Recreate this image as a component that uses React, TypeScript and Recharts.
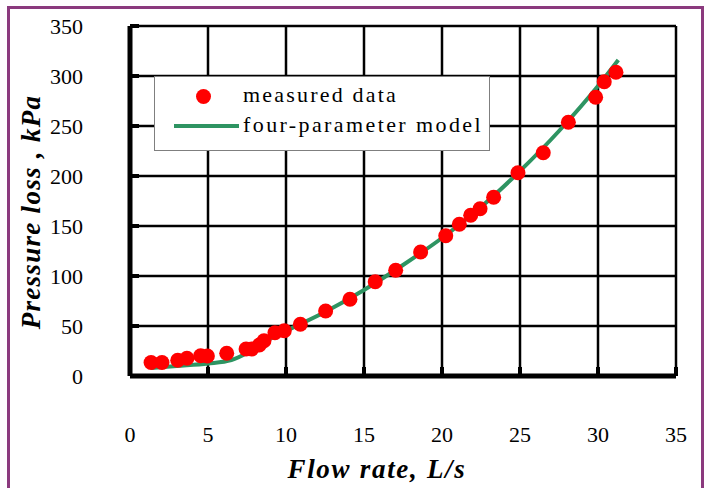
import React from "react";
import {
  ComposedChart,
  Line,
  Scatter,
  XAxis,
  YAxis,
  CartesianGrid,
  Label,
} from "recharts";

const flowMeasured = [
  1.35, 2.05, 3.06, 3.65, 4.53, 4.96, 6.2, 7.44, 7.8, 8.29, 8.59, 9.29, 9.89,
  10.92, 12.54, 14.1, 15.72, 17.03, 18.63, 20.24, 21.11, 21.84, 22.44, 23.31,
  24.87, 26.49, 28.1, 29.85, 30.4, 31.15,
];
const lossMeasured = [
  13.5, 13.5, 15.7, 17.7, 20.3, 20, 22.7, 27, 27, 31, 35.3, 43.3, 45.3, 51.7,
  65, 76.7, 94.3, 105.7, 124, 140.3, 151.7, 160.7, 167.3, 178.7, 203.3, 223.3,
  253.7, 278.7, 294.3, 303.7,
];

const flowModel = [1.35, 3, 5, 6.5, 7.5, 8.5, 10, 12.5, 15, 17.5, 20, 22.5, 25, 27.5, 30, 31.3];
const lossModel = [8, 10, 12.5, 16, 23, 33, 45, 64, 86, 111, 138, 169, 205, 245, 290, 316];

const xTicks = [0, 5, 10, 15, 20, 25, 30, 35];
const yTicks = [0, 50, 100, 150, 200, 250, 300, 350];

const seriesNames = ["measured data", "four-parameter model"];

const measured = flowMeasured.map((x, i) => ({ x, y: lossMeasured[i] }));
const model = flowModel.map((x, i) => ({ x, y: lossModel[i] }));

const RED = "#ff0000";
const GREEN = "#2e9462";
const FRAME = "#8b3a7e";
const serif = "Liberation Serif";

const Dot = (props: any) => <circle cx={props.cx} cy={props.cy} r={7.5} fill={RED} />;

function YTitle(props: any) {
  const cx = 31;
  const cy = 212;
  return (
    <text
      x={cx}
      y={cy}
      transform={`rotate(-90 ${cx} ${cy})`}
      textAnchor="middle"
      dominantBaseline="central"
      style={{ fontFamily: serif }}
      fontSize={27}
      fontWeight="bold"
      fontStyle="italic"
      letterSpacing={1.3}
      fill="#000"
    >
      Pressure loss , kPa
    </text>
  );
}

function XTitle(props: any) {
  return (
    <text
      x={377}
      y={469}
      textAnchor="middle"
      dominantBaseline="central"
      style={{ fontFamily: serif }}
      fontSize={27}
      fontWeight="bold"
      fontStyle="italic"
      letterSpacing={1.7}
      fill="#000"
    >
      Flow rate, L/s
    </text>
  );
}

export default function App() {
  const tickStyle = { fontFamily: serif, fontSize: 22, fill: "#000", style: { fontFamily: serif } };
  return (
    <div
      style={{
        position: "fixed",
        left: 0,
        top: 0,
        width: 706,
        height: 488,
        overflow: "hidden",
        background: "#fff",
        fontFamily: serif,
      }}
    >
      <div
        style={{
          position: "absolute",
          left: 7,
          top: 6,
          width: 697,
          height: 600,
          boxSizing: "border-box",
          border: `3px solid ${FRAME}`,
        }}
      />
      <div style={{ position: "absolute", left: 0, top: 0 }}>
        <ComposedChart
          width={706}
          height={488}
          margin={{ top: 26, right: 30, left: 0, bottom: 0 }}
          style={{ fontFamily: serif }}
        >
          <CartesianGrid stroke="#000" strokeWidth={2.5} />
          <XAxis
            xAxisId={0}
            type="number"
            dataKey="x"
            domain={[0, 35]}
            ticks={xTicks}
            height={112}
            axisLine={{ stroke: "#000", strokeWidth: 5 }}
            tickLine={{ stroke: "#000", strokeWidth: 4 }}
            tickSize={-9}
            tickMargin={59}
            tick={tickStyle}
            interval={0}
          >
            <Label content={XTitle} />
          </XAxis>
          <XAxis
            xAxisId="top"
            orientation="top"
            type="number"
            domain={[0, 35]}
            height={0}
            tick={false}
            tickLine={false}
            axisLine={{ stroke: "#000", strokeWidth: 4 }}
          />
          <YAxis
            yAxisId={0}
            type="number"
            domain={[0, 350]}
            ticks={yTicks}
            width={130}
            axisLine={{ stroke: "#000", strokeWidth: 5 }}
            tickLine={{ stroke: "#000", strokeWidth: 4 }}
            tickSize={-9}
            tickMargin={56}
            tick={tickStyle}
            interval={0}
          >
            <Label content={YTitle} />
          </YAxis>
          <YAxis
            yAxisId="right"
            orientation="right"
            type="number"
            domain={[0, 350]}
            width={0}
            tick={false}
            tickLine={false}
            axisLine={{ stroke: "#000", strokeWidth: 4 }}
          />
          <Line
            data={model}
            dataKey="y"
            type="monotone"
            stroke={GREEN}
            strokeWidth={4}
            dot={false}
            isAnimationActive={false}
            name={seriesNames[1]}
          />
          <Scatter
            data={measured}
            dataKey="y"
            shape={Dot}
            isAnimationActive={false}
            name={seriesNames[0]}
          />
        </ComposedChart>
      </div>
      <div
        style={{
          position: "absolute",
          left: 154,
          top: 76,
          width: 336,
          height: 75,
          boxSizing: "border-box",
          border: "1.5px solid #7f7f7f",
          background: "#fff",
          fontFamily: serif,
          fontSize: 22,
          color: "#000",
        }}
      >
        <div style={{ position: "absolute", left: 41, top: 12, width: 15, height: 15, borderRadius: "50%", background: RED }} />
        <div style={{ position: "absolute", left: 88, top: 5, letterSpacing: 2.2, whiteSpace: "nowrap", lineHeight: "26px" }}>
          {seriesNames[0]}
        </div>
        <div style={{ position: "absolute", left: 19, top: 47, width: 65, height: 4, background: GREEN }} />
        <div style={{ position: "absolute", left: 88, top: 35, letterSpacing: 2.4, whiteSpace: "nowrap", lineHeight: "26px" }}>
          {seriesNames[1]}
        </div>
      </div>
    </div>
  );
}
